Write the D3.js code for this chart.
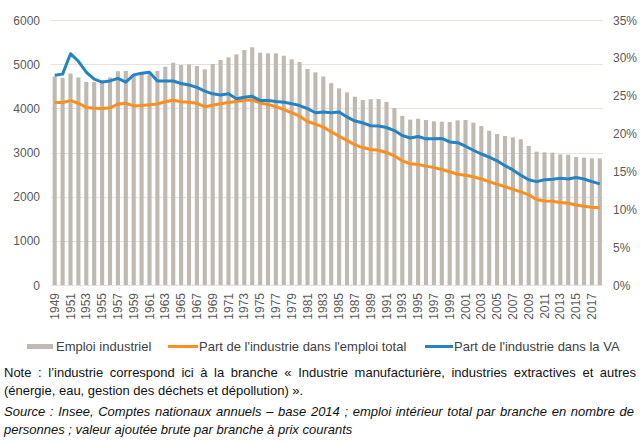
<!DOCTYPE html>
<html>
<head>
<meta charset="utf-8">
<script src="https://cdn.jsdelivr.net/npm/d3@7"></script>
<style>
  body { margin: 0; background: #fff; }
  svg { display: block; font-family: "Liberation Sans", Arial, sans-serif; }
</style>
</head>
<body>
<script>
const width = 641;
const height = 443;

// data
const years = d3.range(1949, 2019);
const emploi = [
  4720, 4690, 4790, 4700, 4600, 4595, 4630, 4700, 4840, 4845,
  4760, 4790, 4800, 4845, 4943, 5033, 4980, 4995, 4958, 4883,
  5003, 5094, 5155, 5223, 5320, 5381, 5260, 5245, 5245, 5192,
  5110, 5049, 4890, 4815, 4720, 4570, 4453, 4362, 4263, 4188,
  4208, 4210, 4145, 4008, 3830, 3745, 3765, 3736, 3705, 3698,
  3690, 3728, 3736, 3675, 3600, 3494, 3419, 3374, 3343, 3298,
  3147, 3018, 3004, 2996, 2958, 2950, 2898, 2882, 2868, 2868
];
const partEmploi = [
  24.1, 24.1, 24.35, 24.0, 23.45, 23.35, 23.3, 23.4, 23.9, 24.0,
  23.65, 23.7, 23.8, 23.9, 24.2, 24.4, 24.2, 24.15, 24.0, 23.55,
  23.75, 23.95, 24.1, 24.25, 24.4, 24.45, 24.05, 23.85, 23.55, 23.15,
  22.75, 22.3, 21.6, 21.25, 20.85, 20.25, 19.65, 19.1, 18.5, 18.15,
  17.9, 17.8, 17.5, 17.05, 16.4, 16.0, 15.9, 15.7, 15.5, 15.25,
  14.95, 14.63, 14.5, 14.3, 14.0, 13.65, 13.3, 13.0, 12.64, 12.3,
  11.9, 11.3, 11.1, 11.05, 10.9, 10.8, 10.57, 10.4, 10.26, 10.2
];
const partVA = [
  27.7, 27.85, 30.55, 29.55, 28.1, 27.2, 26.8, 26.95, 27.3, 26.8,
  27.75, 27.97, 28.1, 26.95, 26.95, 26.95, 26.62, 26.42, 26.1, 25.6,
  25.25, 25.1, 25.25, 24.6, 24.8, 24.92, 24.38, 24.38, 24.25, 24.15,
  23.95, 23.7, 23.3, 22.75, 22.85, 22.75, 22.85, 22.2, 21.65, 21.42,
  21.03, 21.0, 20.8, 20.4, 19.75, 19.42, 19.62, 19.3, 19.3, 19.35,
  18.9, 18.8, 18.33, 17.8, 17.3, 16.9, 16.4, 15.76, 15.2, 14.5,
  13.9, 13.65, 13.9, 13.96, 14.1, 14.0, 14.2, 14.0, 13.65, 13.35
];
const leftTicks = [0, 1000, 2000, 3000, 4000, 5000, 6000];
const rightTicks = [0, 5, 10, 15, 20, 25, 30, 35];
const legendLabels = ["Emploi industriel", "Part de l'industrie dans l'emploi total", "Part de l'industrie dans la VA"];
const noteLines = [
  "Note : l’industrie correspond ici à la branche « Industrie manufacturière, industries extractives et autres",
  "(énergie, eau, gestion des déchets et dépollution) »."
];
const sourceLines = [
  "Source : Insee, Comptes nationaux annuels – base 2014 ; emploi intérieur total par branche en nombre de",
  "personnes ; valeur ajoutée brute par branche à prix courants"
];

const colBar = "#bfb9b2";
const colEmploi = "#fd8f1e";
const colVA = "#2383c3";
const colText = "#595959";

const svg = d3.select("body")
  .append("svg")
  .attr("width", width)
  .attr("height", height);

const x = d3.scaleBand()
  .domain(years)
  .range([50.75, 603.75])
  .paddingInner(0.48)
  .paddingOuter(0.24);

const y = d3.scaleLinear().domain([0, 6000]).range([285, 20]);
const yPct = d3.scaleLinear().domain([0, 35]).range([285, 20]);

const cx = d => x(d) + x.bandwidth() / 2;

// gridlines
svg.append("g")
  .selectAll("line")
  .data(leftTicks)
  .enter()
  .append("line")
  .attr("x1", 51)
  .attr("x2", 603)
  .attr("y1", d => Math.round(y(d)) + 0.5)
  .attr("y2", d => Math.round(y(d)) + 0.5)
  .attr("stroke", "#e8e2de")
  .attr("stroke-width", 1);

// left axis
svg.append("g")
  .selectAll("text")
  .data(leftTicks)
  .enter()
  .append("text")
  .attr("x", 40)
  .attr("y", d => y(d) + 4.5)
  .attr("text-anchor", "end")
  .attr("font-size", 12)
  .attr("fill", colText)
  .text(d => d);

// right axis
svg.append("g")
  .selectAll("text")
  .data(rightTicks)
  .enter()
  .append("text")
  .attr("x", 613)
  .attr("y", d => yPct(d) + 4.5)
  .attr("font-size", 12)
  .attr("fill", colText)
  .text(d => d + "%");

// bars
svg.append("g")
  .selectAll("rect")
  .data(years)
  .enter()
  .append("rect")
  .attr("x", d => x(d))
  .attr("y", (d, i) => y(emploi[i]))
  .attr("width", x.bandwidth())
  .attr("height", (d, i) => y(0) - y(emploi[i]))
  .attr("fill", colBar);

// x labels, one year in two
svg.append("g")
  .selectAll("text")
  .data(years.filter(d => (d - 1949) % 2 === 0))
  .enter()
  .append("text")
  .attr("transform", d => `translate(${cx(d) + 4},293) rotate(-90)`)
  .attr("text-anchor", "end")
  .attr("font-size", 12)
  .attr("fill", colText)
  .text(d => d);

// lines
const line = d3.line()
  .x((d, i) => cx(years[i]))
  .y(d => yPct(d));

svg.append("path")
  .datum(partEmploi)
  .attr("d", line)
  .attr("fill", "none")
  .attr("stroke", colEmploi)
  .attr("stroke-width", 3)
  .attr("stroke-linejoin", "round");

svg.append("path")
  .datum(partVA)
  .attr("d", line)
  .attr("fill", "none")
  .attr("stroke", colVA)
  .attr("stroke-width", 3)
  .attr("stroke-linejoin", "round");

// legend
const legend = svg.append("g").attr("font-size", 13).attr("fill", "#404040");
legend.append("rect").attr("x", 27).attr("y", 344).attr("width", 26).attr("height", 5).attr("fill", colBar);
legend.append("text").attr("x", 56).attr("y", 351).text(legendLabels[0]);
legend.append("line").attr("x1", 168).attr("x2", 198).attr("y1", 346.5).attr("y2", 346.5)
  .attr("stroke", colEmploi).attr("stroke-width", 3);
legend.append("text").attr("x", 199).attr("y", 351).text(legendLabels[1]);
legend.append("line").attr("x1", 425).attr("x2", 453).attr("y1", 346.5).attr("y2", 346.5)
  .attr("stroke", colVA).attr("stroke-width", 3);
legend.append("text").attr("x", 454).attr("y", 351).text(legendLabels[2]);

// justified text line: spread the words from x0 to x1
function textLine(str, x0, yy, x1, italic) {
  const t = svg.append("text")
    .attr("y", yy)
    .attr("font-size", 13)
    .attr("fill", "#111")
    .attr("font-style", italic ? "italic" : "normal");
  if (!x1) {
    t.attr("x", x0).text(str);
    return;
  }
  const words = str.split(" ");
  const spans = words.map(w => t.append("tspan").text(w));
  const widths = spans.map(s => s.node().getComputedTextLength());
  const gap = (x1 - x0 - d3.sum(widths)) / (words.length - 1);
  let pos = x0;
  spans.forEach((s, i) => {
    s.attr("x", pos);
    pos += widths[i] + gap;
  });
}

textLine(noteLines[0], 4, 377, 636, false);
textLine(noteLines[1], 4, 395, null, false);
textLine(sourceLines[0], 4, 416, 634, true);
textLine(sourceLines[1], 4, 434, null, true);
</script>
</body>
</html>
